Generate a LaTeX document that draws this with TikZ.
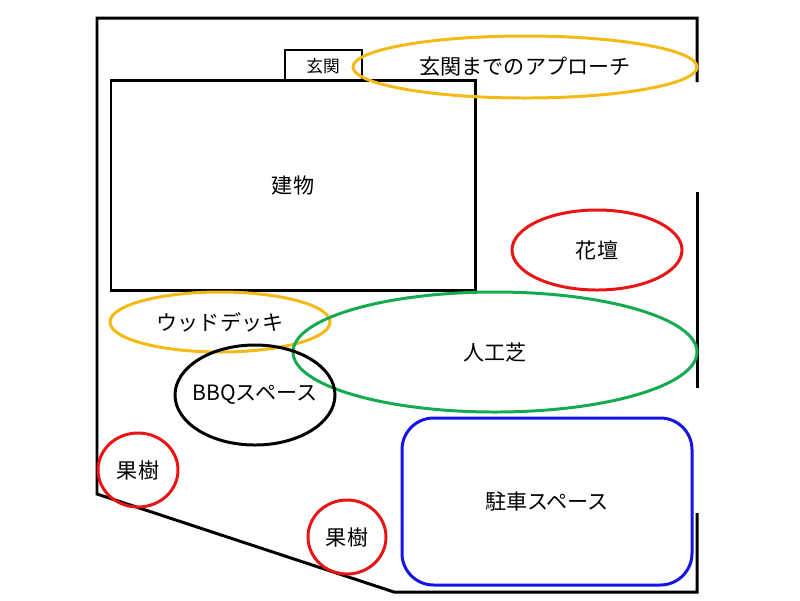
\documentclass[tikz,border=0pt]{standalone}
\usepackage{fontspec}
\setmainfont{Noto Sans CJK JP}
\usetikzlibrary{shapes.geometric}
\definecolor{yel}{RGB}{245,185,20}
\definecolor{grn}{RGB}{20,170,80}
\definecolor{rd}{RGB}{235,20,20}
\definecolor{bl}{RGB}{20,20,230}
\tikzset{lbl/.style={font=\fontsize{12}{14}\selectfont},ln/.style={line width=1.7pt}}
\begin{document}
\begin{tikzpicture}[x=0.02cm,y=-0.02cm]
\useasboundingbox (0,0) rectangle (800,600);
\draw[ln] (697,82) -- (697,18) -- (97,18) -- (97,494) -- (394,592) -- (697,592) -- (697,513);
\draw[ln] (697,192) -- (697,388);
\draw[line width=1.2pt] (285,50) rectangle (362,80);
\node[font=\fontsize{9.5}{11}\selectfont] (g) at (323,66) {玄関};
\draw[ln] (111,80) rectangle (475,290);
\node[lbl] (b) at (293,185) {建物};
\draw[ln,yel] (525,67) ellipse [x radius=172,y radius=31];
\node[lbl] (a) at (525,67) {玄関までのアプローチ};
\draw[ln,rd] (597,250) ellipse [x radius=85,y radius=40];
\node[lbl] (k) at (597,250) {花壇};
\draw[ln,yel] (220,322) ellipse [x radius=110,y radius=30];
\node[lbl] (w) at (220,322) {ウッドデッキ};
\draw[ln,grn] (495,352) ellipse [x radius=202,y radius=60];
\node[lbl] (s) at (495,352) {人工芝};
\draw[ln] (255,395) ellipse [x radius=80,y radius=50];
\node[lbl] (q) at (255,395) {BBQスペース};
\draw[ln,bl,rounded corners=18] (402,418) rectangle (692,585);
\node[lbl] (p) at (547,501) {駐車スペース};
\draw[ln,rd] (138,470) ellipse [x radius=40,y radius=37];
\node[lbl] (f1) at (138,470) {果樹};
\draw[ln,rd] (347,537) ellipse [x radius=39,y radius=37];
\node[lbl] (f2) at (347,537) {果樹};
\end{tikzpicture}
\end{document}
